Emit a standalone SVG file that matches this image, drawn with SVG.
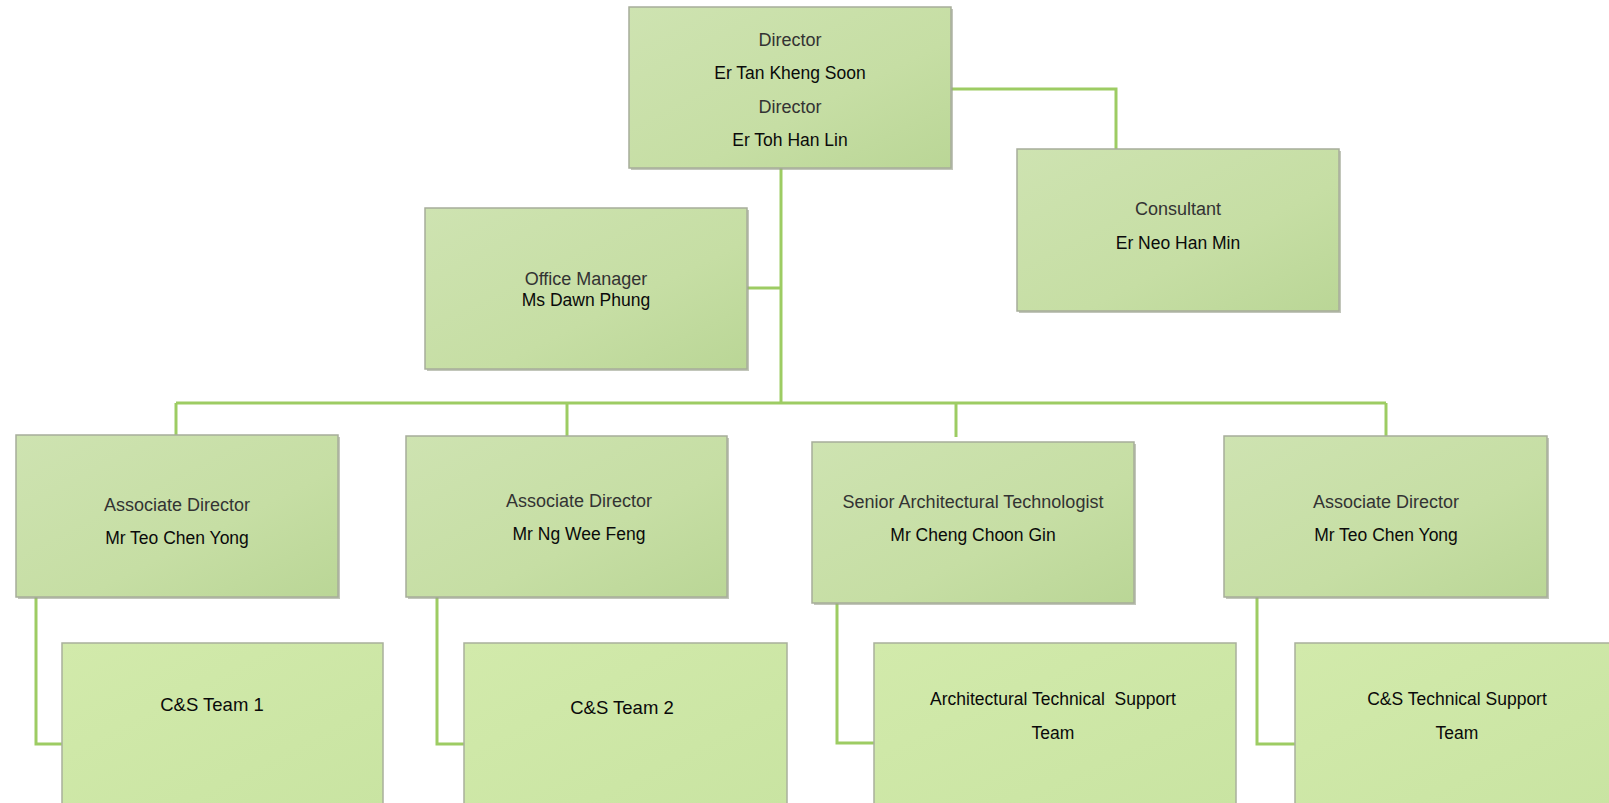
<svg xmlns="http://www.w3.org/2000/svg" width="1609" height="803" viewBox="0 0 1609 803">
<defs>
<linearGradient id="gRole" x1="0" y1="0" x2="1" y2="1">
<stop offset="0" stop-color="#cee3b1"/>
<stop offset="0.6" stop-color="#c6dea4"/>
<stop offset="1" stop-color="#bad696"/>
</linearGradient>
<linearGradient id="gTeam" x1="0" y1="0" x2="1" y2="1">
<stop offset="0" stop-color="#d2eaab"/>
<stop offset="1" stop-color="#c9e4a2"/>
</linearGradient>
<style>
.role{fill:url(#gRole);stroke:#a7ad9a;stroke-width:1.5}
.team{fill:url(#gTeam);stroke:#a9b09c;stroke-width:1.5}
.shadow{fill:#9aa08c;opacity:0.6}
.t{font-family:"Liberation Sans",Arial,sans-serif;font-size:18px;fill:#333;text-anchor:middle;dominant-baseline:central}
.n{font-family:"Liberation Sans",Arial,sans-serif;font-size:17.5px;fill:#0a0a0a;text-anchor:middle;dominant-baseline:central;white-space:pre}
.tm{font-family:"Liberation Sans",Arial,sans-serif;font-size:18.5px;fill:#0a0a0a;text-anchor:middle;dominant-baseline:central}
.c{fill:none;stroke:#9dcc63;stroke-width:3}
</style>
</defs>
<rect width="1609" height="803" fill="#ffffff"/>
<g id="connectors">
<path class="c" d="M951 89 H1116 V149"/>
<path class="c" d="M781 168 V403"/>
<path class="c" d="M747 288 H781"/>
<path class="c" d="M176 403 H1386"/>
<path class="c" d="M176 403 V435"/>
<path class="c" d="M567 403 V436"/>
<path class="c" d="M956 403 V437"/>
<path class="c" d="M1386 403 V436"/>
<path class="c" d="M36 597 V744 H62"/>
<path class="c" d="M437 597 V744 H464"/>
<path class="c" d="M837 603 V743 H874"/>
<path class="c" d="M1257 597 V744 H1295"/>
</g>
<g id="directors">
<rect class="shadow" x="631" y="9" width="322" height="161"/>
<rect class="role" x="629" y="7" width="322" height="161"/>
<text class="t" x="790" y="40">Director</text>
<text class="n" x="790" y="73">Er Tan Kheng Soon</text>
<text class="t" x="790" y="107">Director</text>
<text class="n" x="790" y="140">Er Toh Han Lin</text>
</g>
<g id="consultant">
<rect class="shadow" x="1019" y="151" width="322" height="162"/>
<rect class="role" x="1017" y="149" width="322" height="162"/>
<text class="t" x="1178" y="209">Consultant</text>
<text class="n" x="1178" y="243">Er Neo Han Min</text>
</g>
<g id="office-manager">
<rect class="shadow" x="427" y="210" width="322" height="161"/>
<rect class="role" x="425" y="208" width="322" height="161"/>
<text class="t" x="586" y="279">Office Manager</text>
<text class="n" x="586" y="300">Ms Dawn Phung</text>
</g>
<g id="assoc-director-1">
<rect class="shadow" x="18" y="437" width="322" height="162"/>
<rect class="role" x="16" y="435" width="322" height="162"/>
<text class="t" x="177" y="505">Associate Director</text>
<text class="n" x="177" y="538">Mr Teo Chen Yong</text>
</g>
<g id="assoc-director-2">
<rect class="shadow" x="408" y="438" width="321" height="161"/>
<rect class="role" x="406" y="436" width="321" height="161"/>
<text class="t" x="579" y="501">Associate Director</text>
<text class="n" x="579" y="534">Mr Ng Wee Feng</text>
</g>
<g id="senior-arch-tech">
<rect class="shadow" x="814" y="444" width="322" height="161"/>
<rect class="role" x="812" y="442" width="322" height="161"/>
<text class="t" x="973" y="502">Senior Architectural Technologist</text>
<text class="n" x="973" y="535">Mr Cheng Choon Gin</text>
</g>
<g id="assoc-director-4">
<rect class="shadow" x="1226" y="438" width="323" height="161"/>
<rect class="role" x="1224" y="436" width="323" height="161"/>
<text class="t" x="1386" y="502">Associate Director</text>
<text class="n" x="1386" y="535">Mr Teo Chen Yong</text>
</g>
<g id="team-1">
<rect class="team" x="62" y="643" width="321" height="165"/>
<text class="tm" x="212" y="704">C&amp;S Team 1</text>
</g>
<g id="team-2">
<rect class="team" x="464" y="643" width="323" height="165"/>
<text class="tm" x="622" y="707">C&amp;S Team 2</text>
</g>
<g id="team-3">
<rect class="team" x="874" y="643" width="362" height="165"/>
<text class="n" x="1053" y="699" xml:space="preserve">Architectural Technical  Support</text>
<text class="n" x="1053" y="733">Team</text>
</g>
<g id="team-4">
<rect class="team" x="1295" y="643" width="320" height="165"/>
<text class="n" x="1457" y="699">C&amp;S Technical Support</text>
<text class="n" x="1457" y="733">Team</text>
</g>
</svg>
